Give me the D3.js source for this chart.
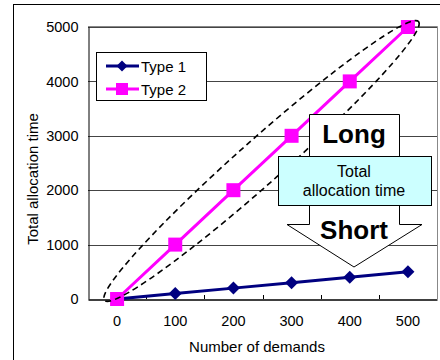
<!DOCTYPE html>
<html><head><meta charset="utf-8">
<script src="https://cdn.jsdelivr.net/npm/d3@7"></script>
<style>body{margin:0;background:#fff}svg{display:block}text{font-family:Arial,"Liberation Sans",sans-serif}</style>
</head><body>
<script>
const categories = ["0","100","200","300","400","500"];
const type1 = [0,100,200,300,400,500];
const type2 = [0,1000,2000,3000,4000,5000];
const yTicks = [0,1000,2000,3000,4000,5000];
const seriesNames = ["Type 1","Type 2"];

const W=440,H=360;
const svg=d3.select("body").append("svg").attr("width",W).attr("height",H);
const L=88,R=437,T=27,B=299;
const x=d3.scaleBand().domain(categories).range([L,R]);
const y=d3.scaleLinear().domain([0,5000]).range([B,T]);
const cx=d=>x(d)+x.bandwidth()/2;

// outer frame
svg.append("rect").attr("x",13.5).attr("y",4.5).attr("width",600).attr("height",600)
  .attr("fill","none").attr("stroke","#000");

// grid
svg.append("g").selectAll("line").data(yTicks.filter(d=>d>0)).join("line")
  .attr("x1",L).attr("x2",R).attr("y1",d=>Math.round(y(d))+0.5).attr("y2",d=>Math.round(y(d))+0.5)
  .attr("stroke","#444");
// plot border
svg.append("path").attr("d",`M${L},${T-0.5}H${R+0.5}V${B}`).attr("fill","none").attr("stroke","#888");

// axes
const yAxis=d3.axisLeft(y).tickValues(yTicks).tickSize(0).tickPadding(10).tickFormat(d3.format("d"));
const gy=svg.append("g").attr("transform",`translate(${L+0.5},0)`).call(yAxis);
gy.select(".domain").attr("stroke","#000");
gy.selectAll("text").attr("font-size","14.5px").attr("fill","#000");

const xAxis=d3.axisBottom(x).tickSize(0).tickPadding(16);
const gx=svg.append("g").attr("transform",`translate(0,${B+0.5})`).call(xAxis);
gx.select(".domain").attr("stroke","#000").attr("stroke-width",1.3);
gx.selectAll("text").attr("font-size","14.5px").attr("fill","#000");
// inward tick marks at band boundaries
const bounds=categories.map(c=>x(c)).slice(1);
svg.append("g").selectAll("line").data(bounds).join("line")
  .attr("x1",d=>Math.round(d)+0.5).attr("x2",d=>Math.round(d)+0.5).attr("y1",B).attr("y2",B-4)
  .attr("stroke","#000");

// titles
svg.append("text").attr("x",257).attr("y",352).attr("text-anchor","middle").attr("font-size","15px").text("Number of demands");
svg.append("text").attr("transform","translate(38,179) rotate(-90)").attr("text-anchor","middle").attr("font-size","15px").text("Total allocation time");

// lines
const line=d3.line().x((d,i)=>cx(categories[i])).y(d=>y(d));
svg.append("path").datum(type1).attr("d",line).attr("fill","none").attr("stroke","#000080").attr("stroke-width",3);
svg.append("path").datum(type2).attr("d",line).attr("fill","none").attr("stroke","#ff00ff").attr("stroke-width",3);
const diamond="M0,-6.5L6.5,0L0,6.5L-6.5,0Z";
svg.append("g").selectAll("path").data(type1).join("path")
  .attr("transform",(d,i)=>`translate(${cx(categories[i])},${y(d)})`).attr("d",diamond).attr("fill","#000080");
svg.append("g").selectAll("rect").data(type2).join("rect")
  .attr("x",(d,i)=>cx(categories[i])-7).attr("y",d=>y(d)-7).attr("width",14).attr("height",14).attr("fill","#ff00ff");

// dashed ellipse
svg.append("ellipse").attr("cx",0).attr("cy",0).attr("rx",210).attr("ry",22)
  .attr("transform","translate(261.5,161) rotate(-41.6)")
  .attr("fill","none").attr("stroke","#000").attr("stroke-width",1.6).attr("stroke-dasharray","6,4");

// block arrow
svg.append("path").attr("d","M309.5,114.5H399.5V224.5H422L354,267L287,224.5H309.5Z")
  .attr("fill","#fff").attr("stroke","#000");
svg.append("text").attr("x",354).attr("y",143).attr("text-anchor","middle").attr("font-size","26px").attr("font-weight","bold").text("Long");
svg.append("text").attr("x",354).attr("y",239).attr("text-anchor","middle").attr("font-size","26px").attr("font-weight","bold").text("Short");
svg.append("rect").attr("x",278.5).attr("y",156.5).attr("width",153).attr("height",49).attr("fill","#ccffff").attr("stroke","#000");
svg.append("text").attr("x",354).attr("y",177).attr("text-anchor","middle").attr("font-size","16px").text("Total");
svg.append("text").attr("x",354).attr("y",196).attr("text-anchor","middle").attr("font-size","16px").text("allocation time");

// legend
const lg=svg.append("g");
lg.append("rect").attr("x",96.5).attr("y",52.5).attr("width",110).attr("height",48).attr("fill","#fff").attr("stroke","#000");
const lcol=["#000080","#ff00ff"];
seriesNames.forEach((n,i)=>{
  const yy=66+i*23;
  lg.append("line").attr("x1",106).attr("x2",139).attr("y1",yy).attr("y2",yy).attr("stroke",lcol[i]).attr("stroke-width",3);
  if(i===0) lg.append("path").attr("transform",`translate(122,${yy})`).attr("d","M0,-5.5L5.5,0L0,5.5L-5.5,0Z").attr("fill",lcol[i]);
  else lg.append("rect").attr("x",116).attr("y",yy-6).attr("width",12).attr("height",12).attr("fill",lcol[i]);
  lg.append("text").attr("x",141).attr("y",yy+5.5).attr("font-size","15px").text(n);
});
</script>
</body></html>
